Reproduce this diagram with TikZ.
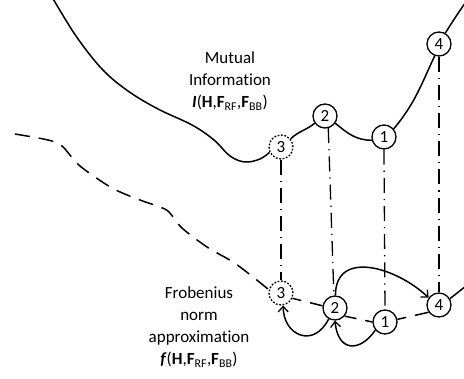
\documentclass[tikz,border=0pt]{standalone}
\usepackage{fontspec}
\setmainfont[Ligatures=NoCommon]{Carlito}
\usetikzlibrary{arrows.meta}
\begin{document}
\begin{tikzpicture}[x=1pt,y=-1pt,
  pt/.style={circle,draw,line width=1.3pt,minimum size=24pt,inner sep=0pt,font=\fontsize{17}{20}\selectfont},
  ghost/.style={pt,dash pattern=on 1.8pt off 1.6pt},
  curve/.style={line width=1.5pt},
  dcurve/.style={line width=1.5pt,dash pattern=on 15pt off 9pt},
  link/.style={line width=1.3pt,dash pattern=on 15pt off 6pt on 1.2pt off 6pt},
  hop/.style={line width=1.5pt,-{Straight Barb[length=5.5pt,width=10pt,line width=1.3pt]}},
  lbl/.style={align=center,font=\fontsize{17}{22}\selectfont}]
\useasboundingbox (0,0) rectangle (464,379);

% points on the mutual-information curve
\node[ghost] (3t) at (281,147) {3};
\node[pt] (2t) at (325,116) {2};
\node[pt] (1t) at (384,137) {1};
\node[pt] (4t) at (439,44) {4};

% points on the Frobenius-norm curve
\node[ghost] (3b) at (281,293) {3};
\node[pt] (2b) at (335,308) {2};
\node[pt] (1b) at (385,322) {1};
\node[pt] (4b) at (439,305) {4};

% labels
\node[lbl] (mi) at (230,81) {Mutual\\Information\\\textbf{\textit{I}}(\textbf{H},\textbf{F}\textsubscript{RF},\textbf{F}\textsubscript{BB})};
\node[lbl] (fn) at (199,327) {Frobenius\\norm\\approximation\\\textbf{\textit{f}}(\textbf{H},\textbf{F}\textsubscript{RF},\textbf{F}\textsubscript{BB})};

% mutual-information curve
\draw[curve] plot[smooth,tension=0.6] coordinates {(52,-3) (76,36) (102,69) (128,91) (158,109) (192,125) (214,140) (230,156) (245,162) (260,159) (3t.205)};
\draw[curve] (3t.40) to[out=45,in=220] (2t.215);
\draw[curve] (2t.-35) to[out=-40,in=180] (1t.195);
\draw[curve] (1t.40) to[out=50,in=245] (4t.250);
\draw[curve] (4t.60) to[out=58,in=235] (470,-4);

% Frobenius-norm curve
\draw[dcurve] plot[smooth,tension=0.5] coordinates {(15,134) (48,140) (62,146) (80,166) (112,188) (140,200) (160,207) (169,212) (182,228) (207,247) (233,262) (253,277) (3b.165)};
\draw[dcurve,dash phase=6pt] (3b.-25) -- (2b.170);
\draw[dcurve,dash phase=3pt] (2b.-40) -- (1b.180);
\draw[dcurve,dash phase=6pt] (1b.12) -- (4b.215);
\draw[curve] (4b.30) -- (466,286);

% vertical correspondences
\draw[link] (3t.south) -- (3b.north);
\draw[link] (2t.-75) -- (2b.95);
\draw[link] (1t.south) -- (1b.north);
\draw[link] (4t.south) -- (4b.north);

% search moves
\draw[hop] (2b.88) .. controls +(0,-46) and +(-33,-31) .. (4b.145);
\draw[hop] (2b.240) .. controls +(-15,30) and +(0,30) .. (3b.-80);
\draw[hop] (1b.220) .. controls +(-15,22) and +(3,32) .. (2b.-90);
\end{tikzpicture}
\end{document}
